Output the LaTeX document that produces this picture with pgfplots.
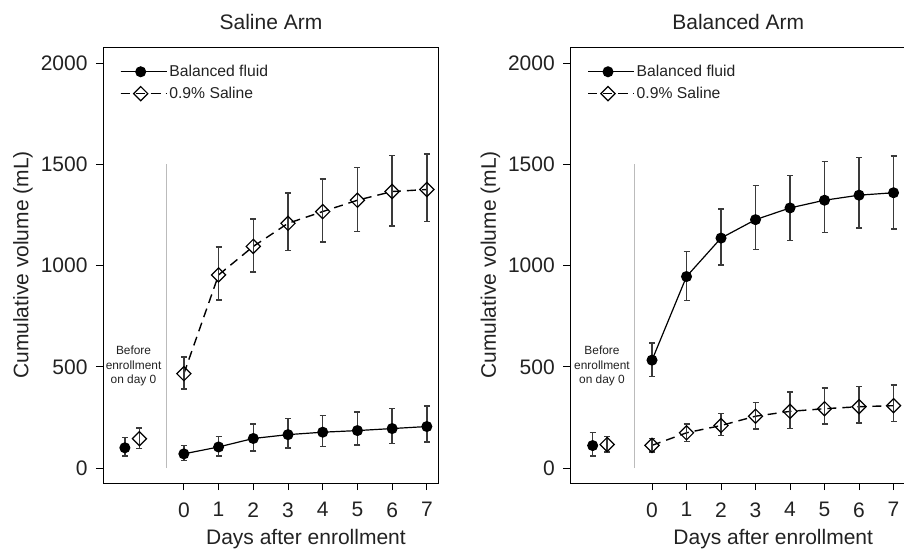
\documentclass[border=0pt]{standalone}
\usepackage{pgfplots}
\pgfplotsset{compat=1.18}
\usepackage{fontspec}
\setmainfont{Liberation Sans}
\definecolor{txt}{HTML}{222222}
\definecolor{ebar}{HTML}{3A3A3A}
\definecolor{vline}{HTML}{BBBBBB}
\pgfplotsset{
  panel/.style={
    scale only axis, width=336bp, height=436bp,
    anchor=south west,
    xmin=-2.33, xmax=7.35, ymin=-74, ymax=2080,
    xtick={0,...,7}, ytick={0,500,1000,1500,2000},
    xtick pos=bottom, ytick pos=left,
    tick align=outside, major tick length=7bp,
    tick style={black, line width=0.9bp},
    axis line style={line width=1bp},
    /pgf/number format/assume math mode=true,
    /pgf/number format/1000 sep={},
    tick label style={font=\fontsize{21bp}{24bp}\selectfont, text=txt},
    xticklabel style={yshift=-9bp},
    yticklabel style={xshift=-5bp},
    label style={font=\fontsize{21bp}{24bp}\selectfont, text=txt},
    title style={font=\fontsize{21bp}{24bp}\selectfont, text=txt, at={(axis description cs:0.5,1)}, anchor=base, yshift=11.7bp},
    xlabel={Days after enrollment},
    ylabel={Cumulative volume (mL)},
    x label style={at={(axis description cs:0.604,-0.142)}, anchor=base},
    y label style={at={(axis description cs:-0.238,0.5)}, anchor=center},
    legend style={draw=none, fill=none, at={(axis description cs:0.05,0.963)}, anchor=north west,
      font=\fontsize{15.7bp}{18bp}\selectfont, text=txt, row sep=5bp, inner sep=0pt, nodes={inner sep=2bp}},
    legend cell align=left,
    legend image code/.code={\path (0bp,0bp) -- (46bp,0bp);\draw[mark repeat=2,mark phase=2,##1] plot coordinates {(0bp,0bp) (20bp,0bp) (40bp,0bp)};},
  },
  bal/.style={black, line width=1.2bp, mark=*, mark size=4.9bp, mark options={solid, fill=black},
    error bars/y dir=both, error bars/y explicit,
    error bars/error bar style={ebar, line width=1.4bp, solid},
    error bars/error mark options={ebar, rotate=90, line width=1.4bp, mark size=3bp, solid}},
  sal/.style={black, line width=1.4bp, dash pattern=on 9bp off 6bp, mark=square, mark size=5bp,
    mark options={solid, rotate=45, fill=none, line width=1.2bp},
    error bars/y dir=both, error bars/y explicit,
    error bars/error bar style={ebar, line width=1.4bp, solid},
    error bars/error mark options={ebar, rotate=90, line width=1.4bp, mark size=3bp, solid}},
  salleg/.style={legend image code/.code={\path (0bp,0bp) -- (46bp,0bp);
    \draw[black, line width=1.4bp, solid] (0bp,0bp) -- (7bp,0bp) (33bp,0bp) -- (40bp,0bp);
    \draw[black, line width=1.2bp, solid] plot[only marks, mark=square, mark size=5bp, mark options={rotate=45}] coordinates {(20bp,0bp)};}},
}
\begin{document}
\begin{tikzpicture}
\useasboundingbox (0,0) rectangle (904bp,-551bp);
% ---------------- Saline Arm ----------------
\begin{axis}[panel, at={(103bp,-483bp)}, title={Saline Arm}]
\addplot[vline, line width=1bp, forget plot] coordinates {(-0.5,0) (-0.5,1500)};
\addplot[bal] table[x=x, y=y, y error plus=ep, y error minus=em] {
x y ep em
0 70 41 32
1 104 51 44
2 146 72 62
3 165 81 66
4 177 83 71
5 185 91 72
6 195 99 74
7 205 101 76
};
\addlegendentry{Balanced fluid}
\addplot[sal, salleg] table[x=x, y=y, y error plus=ep, y error minus=em] {
x y ep em
0 466 82 76
1 954 138 124
2 1095 136 126
3 1209 149 135
4 1267 161 150
5 1323 162 155
6 1366 179 170
7 1376 176 157
};
\addlegendentry{0.9\% Saline}
\addplot[bal, only marks, forget plot] table[x=x, y=y, y error plus=ep, y error minus=em] {
x y ep em
-1.7 100 50 40
};
\addplot[sal, only marks, forget plot] table[x=x, y=y, y error plus=ep, y error minus=em] {
x y ep em
-1.28 145 52 49
};
\node[align=center, font=\fontsize{11.9bp}{14.5bp}\selectfont, text=txt] at (axis cs:-1.45,504) {Before\\enrollment\\on day 0};
\end{axis}
% ---------------- Balanced Arm ----------------
\begin{axis}[panel, at={(570.3bp,-483bp)}, xmin=-2.368, xmax=7.37, title={Balanced Arm}]
\addplot[vline, line width=1bp, forget plot] coordinates {(-0.5,0) (-0.5,1500)};
\addplot[bal] table[x=x, y=y, y error plus=ep, y error minus=em] {
x y ep em
0 533 84 80
1 946 123 117
2 1136 144 132
3 1227 169 147
4 1285 161 162
5 1323 191 160
6 1348 187 163
7 1360 182 179
};
\addlegendentry{Balanced fluid}
\addplot[sal, salleg] table[x=x, y=y, y error plus=ep, y error minus=em] {
x y ep em
0 112 35 33
1 174 44 43
2 210 58 48
3 256 69 64
4 280 96 85
5 293 102 76
6 303 101 81
7 308 102 78
};
\addlegendentry{0.9\% Saline}
\addplot[bal, only marks, forget plot] table[x=x, y=y, y error plus=ep, y error minus=em] {
x y ep em
-1.72 111 64 51
};
\addplot[sal, only marks, forget plot] table[x=x, y=y, y error plus=ep, y error minus=em] {
x y ep em
-1.3 116 39 37
};
\node[align=center, font=\fontsize{11.9bp}{14.5bp}\selectfont, text=txt] at (axis cs:-1.45,504) {Before\\enrollment\\on day 0};
\end{axis}
\end{tikzpicture}
\end{document}
